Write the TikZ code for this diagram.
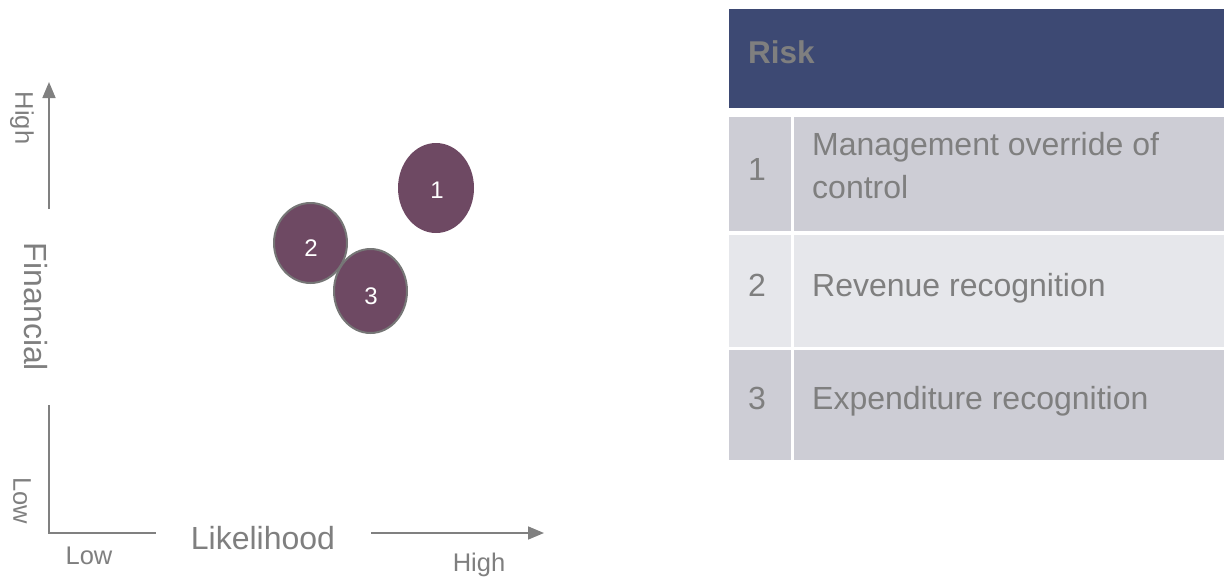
\documentclass[tikz,border=0pt]{standalone}
\usepackage{fontspec}
\setmainfont{Liberation Sans}
\usetikzlibrary{arrows.meta}
\definecolor{txtgray}{HTML}{7F7F7F}
\definecolor{axgray}{HTML}{808080}
\definecolor{hdrblue}{HTML}{3D4973}
\definecolor{rowdark}{HTML}{CDCDD5}
\definecolor{rowlight}{HTML}{E6E7EB}
\definecolor{plum}{HTML}{6E4963}
\definecolor{ringgray}{HTML}{767676}
\tikzset{
  axis/.style={draw=axgray, line width=1.6pt},
  axtip/.style={-{Triangle[length=16pt,width=13pt]}},
  axlabel/.style={text=txtgray, font=\fontsize{32}{36}\selectfont, inner sep=0pt},
  endlabel/.style={text=txtgray, font=\fontsize{25.5}{29}\selectfont, inner sep=0pt},
  bubnum/.style={text=white, font=\fontsize{24}{28}\selectfont, inner sep=0pt},
  celltxt/.style={text=txtgray, font=\fontsize{32}{44}\selectfont, inner sep=0pt, anchor=base west, align=left},
  cellnum/.style={text=txtgray, font=\fontsize{32}{36}\selectfont, inner sep=0pt, anchor=base},
}
\begin{document}
\begin{tikzpicture}[x=1pt,y=-1pt]
\useasboundingbox (0,0) rectangle (1224,584);
% axes
\coordinate (vtop) at (49,82);
\coordinate (vmid1) at (49,209);
\coordinate (vmid2) at (49,405);
\coordinate (org) at (49,533);
\coordinate (hmid1) at (156,533);
\coordinate (hmid2) at (371,533);
\coordinate (hend) at (544,533);
\draw[axis,axtip] (vmid1) -- (vtop);
\draw[axis] (vmid2) -- (org) -- (hmid1);
\draw[axis,axtip] (hmid2) -- (hend);
\node[endlabel, rotate=-90] (yhigh) at (22,118) {High};
\node[axlabel, rotate=-90] (yfin) at (36,307) {Financial};
\node[endlabel, rotate=-90] (ylow) at (22,501) {Low};
\node[endlabel] (xlow) at (89,556) {Low};
\node[axlabel] (xlik) at (263,538) {Likelihood};
\node[endlabel] (xhigh) at (479,565) {High};
% bubbles
\fill[plum] (436,188) ellipse [x radius=38, y radius=45];
\node[bubnum] (b1) at (437,190) {1};
\filldraw[fill=plum, draw=ringgray, line width=2pt] (310.5,243) ellipse [x radius=36.5, y radius=40];
\node[bubnum] (b2) at (311,248) {2};
\filldraw[fill=plum, draw=ringgray, line width=2pt] (370.5,291) ellipse [x radius=36.5, y radius=42];
\node[bubnum] (b3) at (371,296) {3};
% table
\fill[hdrblue] (729,9) rectangle (1224,108);
\node[text=txtgray, font=\bfseries\fontsize{31.5}{34}\selectfont, anchor=base west, inner sep=0pt] (hrisk) at (748,63) {Risk};
\fill[rowdark] (729,117) rectangle (791,231);
\fill[rowdark] (794,117) rectangle (1224,231);
\fill[rowlight] (729,235) rectangle (791,347);
\fill[rowlight] (794,235) rectangle (1224,347);
\fill[rowdark] (729,350) rectangle (791,460);
\fill[rowdark] (794,350) rectangle (1224,460);
\node[cellnum] (n1) at (757,180) {1};
\node[celltxt] (t1) at (812,155) {Management override of};
\node[celltxt] (t1b) at (812,198) {control};
\node[cellnum] (n2) at (757,296) {2};
\node[celltxt] (t2) at (812,296) {Revenue recognition};
\node[cellnum] (n3) at (757,409) {3};
\node[celltxt] (t3) at (812,409) {Expenditure recognition};
\end{tikzpicture}
\end{document}
